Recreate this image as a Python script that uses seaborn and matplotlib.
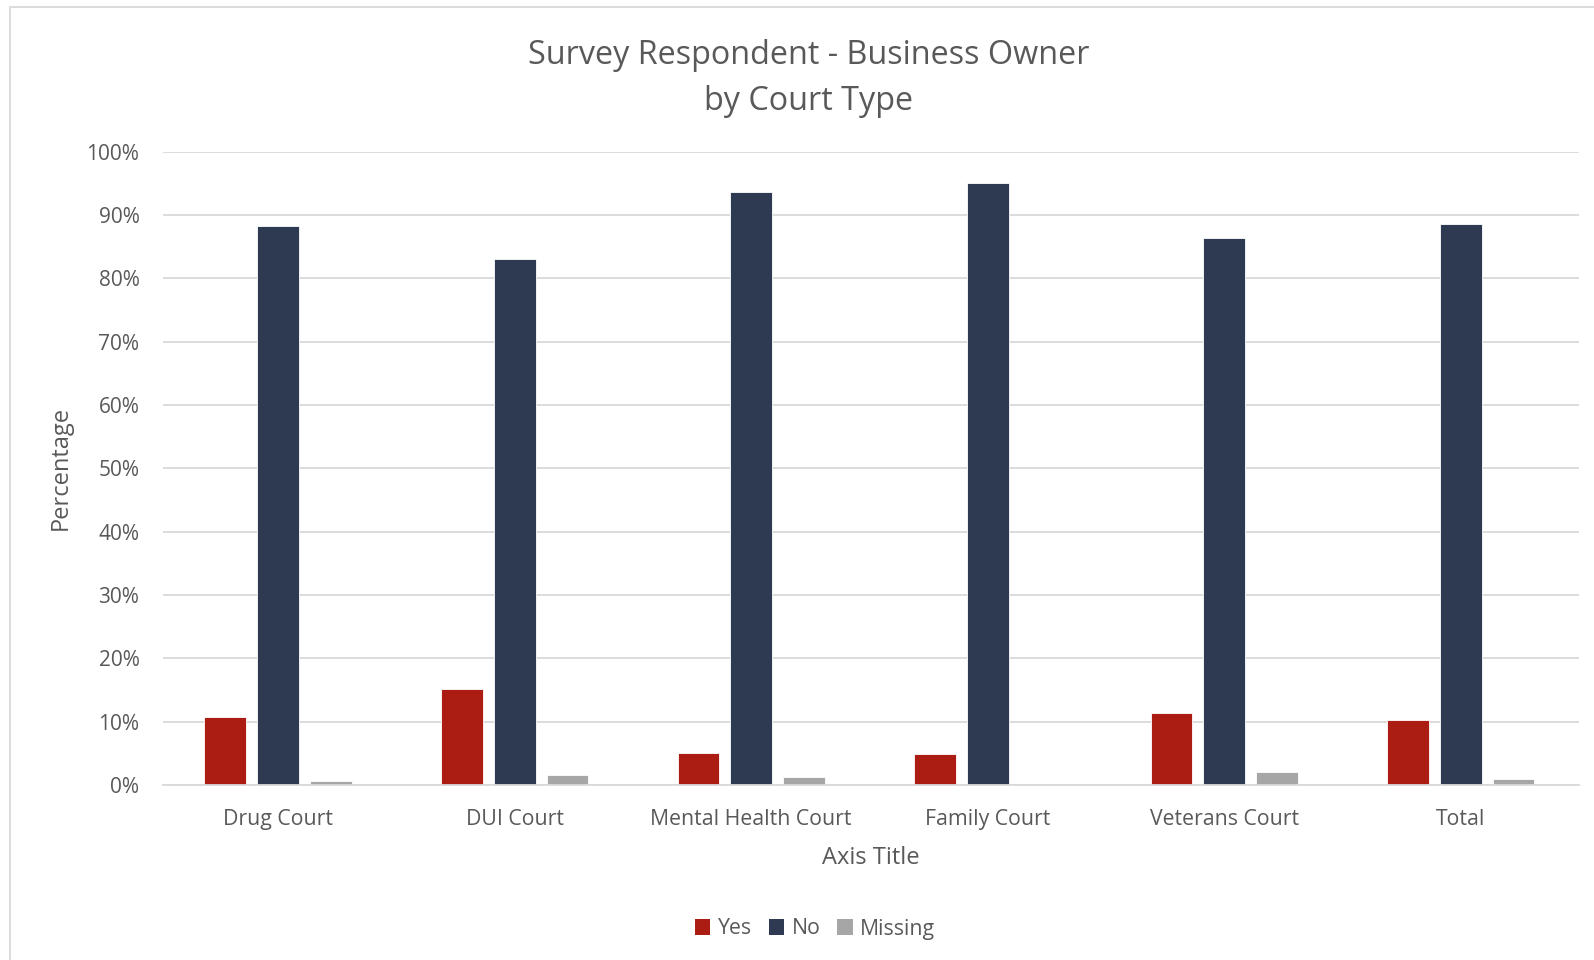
import matplotlib
matplotlib.use("Agg")
import matplotlib.pyplot as plt
from matplotlib.patches import Rectangle
from matplotlib.ticker import FuncFormatter
import pandas as pd
import seaborn as sns

# Share of respondents who own a business, by court type (percent)
courts = ["Drug Court", "DUI Court", "Mental Health Court", "Family Court",
          "Veterans Court", "Total"]
responses = ["Yes", "No", "Missing"]
yes_pct = [10.8, 15.2, 5.0, 4.9, 11.3, 10.3]
no_pct = [88.3, 83.1, 93.6, 95.0, 86.3, 88.5]
missing_pct = [0.6, 1.5, 1.2, 0.0, 2.1, 1.0]
y_ticks = [0, 10, 20, 30, 40, 50, 60, 70, 80, 90, 100]

colors = {"Yes": "#AB1D12", "No": "#2E3A52", "Missing": "#A6A6A6"}
text_color = "#595959"
grid_color = "#D9D9D9"

df = pd.DataFrame({
    "court": courts * 3,
    "response": ["Yes"] * 6 + ["No"] * 6 + ["Missing"] * 6,
    "pct": yes_pct + no_pct + missing_pct,
})

sns.set_theme(style="white")
plt.rcParams["font.family"] = ["Open Sans", "DejaVu Sans"]

W, H = 1594, 960
fig = plt.figure(figsize=(W / 100, H / 100), dpi=100)
ax = fig.add_axes([163 / W, 1 - 785 / H, (1579 - 163) / W, (785 - 151.5) / H])

sns.barplot(data=df, x="court", y="pct", hue="response", hue_order=responses,
            order=courts, palette=colors, saturation=1, width=0.67, gap=0.21,
            edgecolor="white", linewidth=0.6, legend=False, ax=ax)

ax.set_ylim(0, 100)
ax.set_xlim(-0.487, len(courts) - 0.5)
ax.set_yticks(y_ticks)
ax.yaxis.set_major_formatter(FuncFormatter(lambda v, _: f"{v:.0f}%"))
ax.grid(axis="y", color=grid_color, linewidth=1.3)
ax.set_axisbelow(True)
for side in ["top", "right", "left"]:
    ax.spines[side].set_visible(False)
ax.spines["bottom"].set_color(grid_color)
ax.spines["bottom"].set_linewidth(1.3)
ax.tick_params(axis="y", length=0, labelsize=15, colors=text_color, pad=17)
ax.tick_params(axis="x", length=0, labelsize=15.3, colors=text_color, pad=17)

ax.set_xlabel("Axis Title", fontsize=17, color=text_color)
ax.xaxis.set_label_coords(0.5, -(858 - 785) / (785 - 151.5))
ax.xaxis.label.set_va("center")
ax.set_ylabel("Percentage", fontsize=17, color=text_color)
ax.yaxis.set_label_coords((61 - 163) / (1579 - 163), 0.5)
ax.yaxis.label.set_va("center")

fig.text(809 / W, 1 - 55 / H, "Survey Respondent - Business Owner",
         ha="center", va="center", fontsize=23.3, color=text_color)
fig.text(809 / W, 1 - 102 / H, "by Court Type",
         ha="center", va="center", fontsize=23.3, color=text_color)

handles = [Rectangle((0, 0), 1, 1, facecolor=colors[r], edgecolor="none")
           for r in responses]
fig.legend(handles, responses, loc="center", bbox_to_anchor=(815 / W, 1 - 929 / H),
           ncol=3, frameon=False, fontsize=15.3, labelcolor=text_color,
           handlelength=0.72, handleheight=0.72, handletextpad=0.35,
           columnspacing=0.8)

# light chart-area frame
fig.add_artist(Rectangle((10 / W, -0.05), 1.0, 1 - 7 / H + 0.05,
                         transform=fig.transFigure, fill=False,
                         edgecolor="#D9D9D9", linewidth=1.3))

fig.savefig("out.png", dpi=100, facecolor="white")
